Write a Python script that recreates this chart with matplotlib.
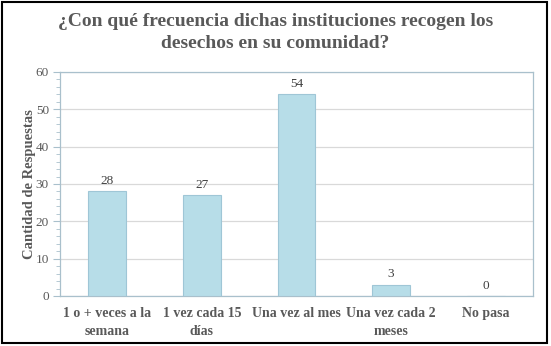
import matplotlib
matplotlib.use("Agg")
import matplotlib.pyplot as plt
from matplotlib.patches import Rectangle
from matplotlib.ticker import MultipleLocator

categories = ["1 o + veces a la\nsemana", "1 vez cada 15\ndías", "Una vez al mes",
              "Una vez cada 2\nmeses", "No pasa"]
values = [28, 27, 54, 3, 0]
title = "¿Con qué frecuencia dichas instituciones recogen los\ndesechos en su comunidad?"
ylabel = "Cantidad de Respuestas"

W, H = 551, 346
fig = plt.figure(figsize=(W / 100, H / 100), dpi=100)
serif = ["Liberation Serif", "DejaVu Serif"]
text_c = "#595959"
axis_c = "#a9c0cc"

ax = fig.add_axes([60 / W, 1 - 296 / H, (533 - 60) / W, (296 - 72) / H])
x = range(len(categories))
bars = ax.bar(x, values, width=0.40, color="#b7dde8", edgecolor="#9fc6d6", linewidth=0.8, zorder=3)
for xi, v in zip(x, values):
    ax.text(xi, v + 1.2, str(v), ha="center", va="bottom", fontsize=9.5,
            family=serif, color="#404040")

ax.set_xlim(-0.5, len(categories) - 0.5)
ax.set_ylim(0, 60)
ax.yaxis.set_major_locator(MultipleLocator(10))
ax.yaxis.set_minor_locator(MultipleLocator(2))
ax.grid(axis="y", color="#d9d9d9", linewidth=0.9, zorder=0)
for s in ax.spines.values():
    s.set_color(axis_c)
    s.set_linewidth(0.9)
ax.tick_params(axis="y", which="major", length=5, color=axis_c, labelsize=9.5,
               labelcolor=text_c, pad=3)
ax.tick_params(axis="y", which="minor", length=3, color=axis_c)
ax.tick_params(axis="x", length=0, pad=8)
ax.set_xticks(list(x))
ax.set_xticklabels(categories, fontsize=10, fontweight="bold", family=serif,
                   color=text_c, linespacing=1.45)
for lab in ax.get_yticklabels():
    lab.set_family(serif)
ax.set_ylabel(ylabel, fontsize=10.5, fontweight="bold", family=serif, color=text_c)
ax.yaxis.set_label_coords(-24 / (533 - 60), (296 - 184) / (296 - 72))

fig.text(0.5, 1 - 13 / H, title, ha="center", va="top", fontsize=14, fontweight="bold",
         family=serif, color=text_c, linespacing=1.4)

fig.patches.append(Rectangle((2 / W, 3 / H), 545 / W, 341 / H, transform=fig.transFigure,
                             fill=False, edgecolor="black", linewidth=1.5))

fig.savefig("out.png", dpi=100)
